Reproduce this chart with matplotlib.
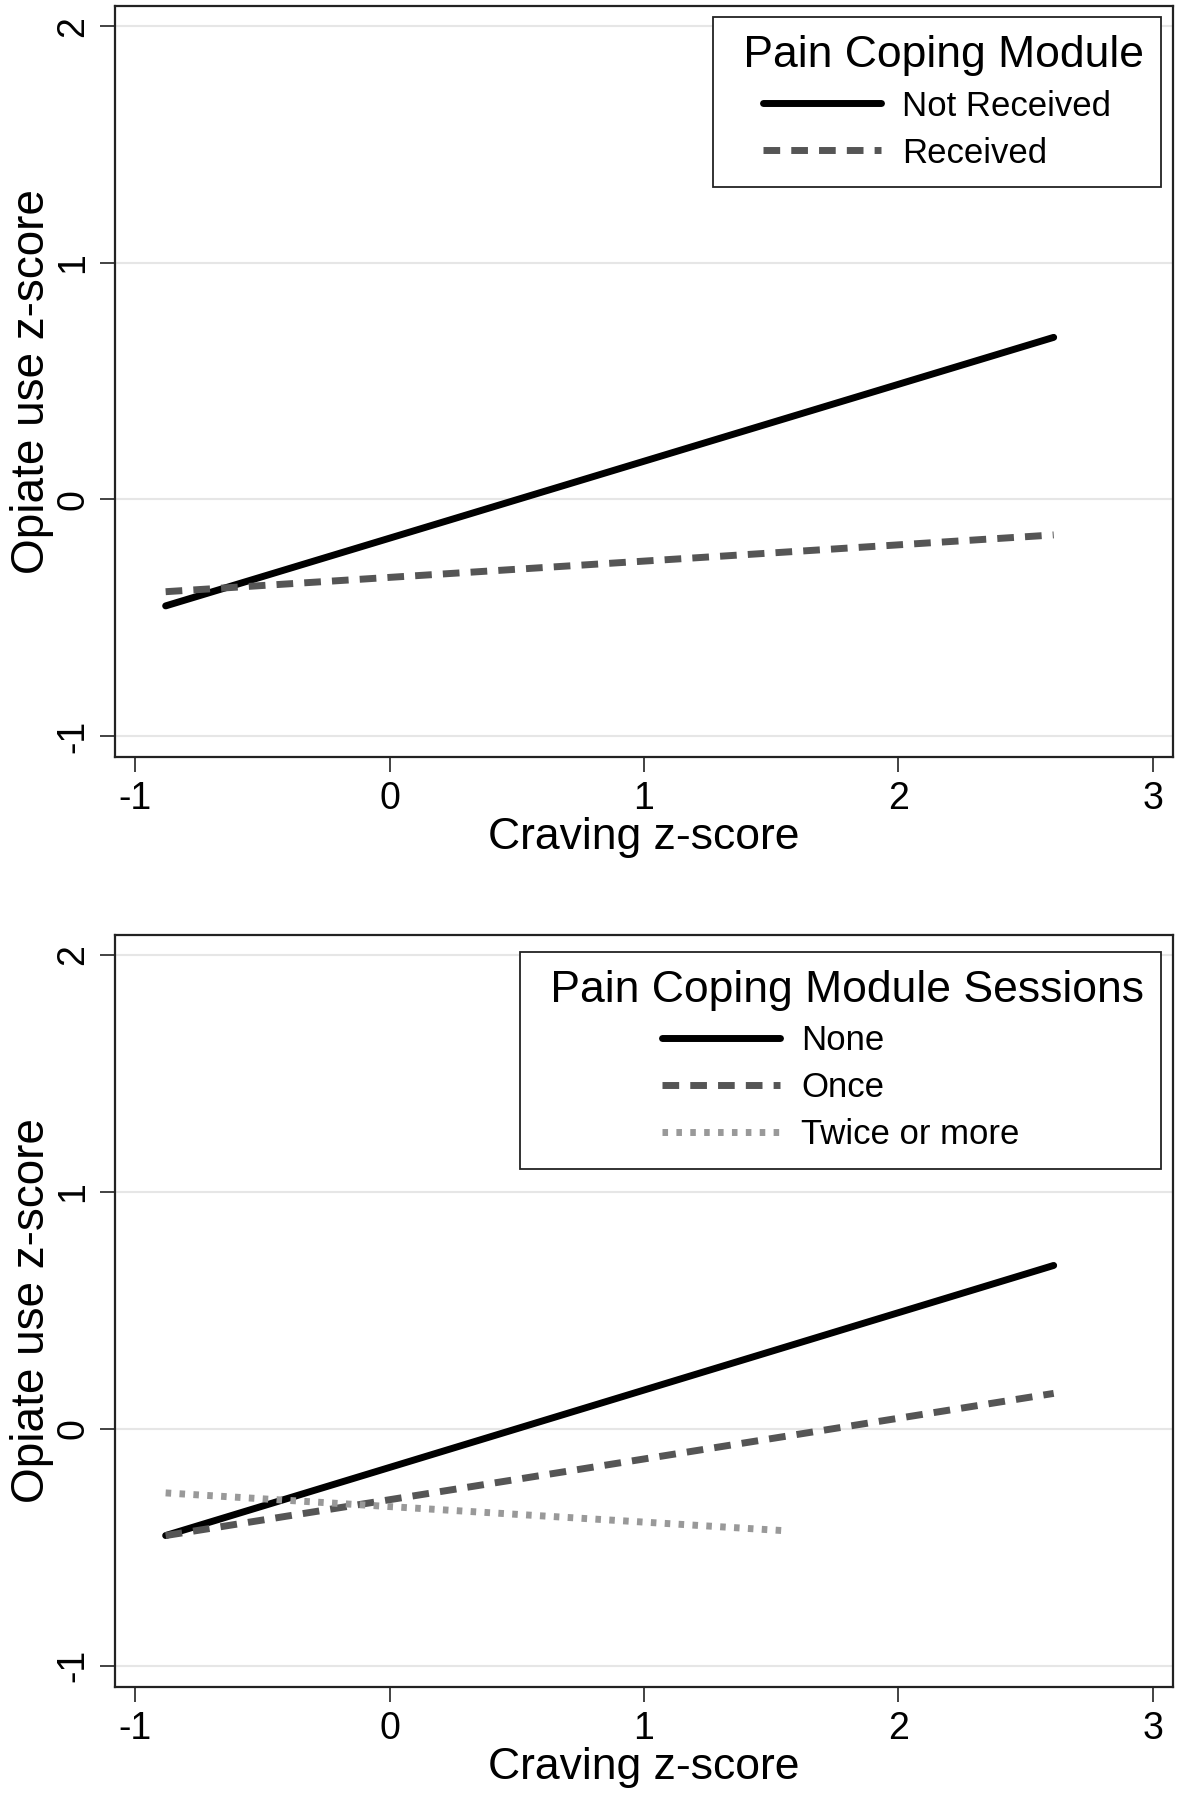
import numpy as np
import matplotlib
matplotlib.use('Agg')
import matplotlib.pyplot as plt

plt.rcParams['font.family'] = ['Liberation Sans', 'DejaVu Sans']
plt.rcParams['lines.scale_dashes'] = False
plt.rcParams['axes.unicode_minus'] = False

# Panel A: pain coping module received or not
x_a = [-0.88, 2.61]
not_received = [-0.45, 0.685]
received = [-0.39, -0.15]

# Panel B: number of pain coping module sessions
x_b = [-0.88, 2.61]
x_twice = [-0.88, 1.56]
none_sess = [-0.45, 0.69]
once_sess = [-0.45, 0.15]
twice_sess = [-0.27, -0.43]

x_ticks = [-1, 0, 1, 2, 3]
y_ticks = [-1, 0, 1, 2]

fig = plt.figure(figsize=(11.82, 18.0), dpi=100)
ax1 = fig.add_axes([0.0973, 0.5794, 0.8951, 0.4172])
ax2 = fig.add_axes([0.0973, 0.0628, 0.8951, 0.4178])


def style_axes(ax):
    ax.set_xlim(-1.079, 3.079)
    ax.set_ylim(-1.089, 2.085)
    ax.set_xticks(x_ticks)
    ax.set_yticks(y_ticks)
    for yt in y_ticks:
        ax.axhline(yt, color='#e6e6e6', lw=1.5, zorder=0)
    for s in ax.spines.values():
        s.set_color('#222222')
        s.set_linewidth(1.6)
    ax.tick_params(axis='both', direction='out', length=11, width=1.2,
                   color='#222222', labelsize=27, pad=6)
    for lab in ax.get_yticklabels():
        lab.set_rotation(90)
        lab.set_va('center')
    ax.set_xlabel('Craving z-score', fontsize=32, labelpad=0)
    ax.set_ylabel('Opiate use z-score', fontsize=33, labelpad=1)


def make_legend(ax, title, anchor_y):
    # leading space gives the wider left margin seen in the original
    leg = ax.legend(title=' ' + title, loc='upper right',
                    bbox_to_anchor=(0.9887, anchor_y), borderaxespad=0,
                    fontsize=25, title_fontsize=32, frameon=True,
                    fancybox=False, edgecolor='#222222', framealpha=1,
                    handlelength=3.4, handletextpad=0.6, labelspacing=0.4,
                    borderpad=0.5)
    leg.get_frame().set_linewidth(1.3)
    return leg


style_axes(ax1)
ax1.plot(x_a, not_received, color='black', lw=5, solid_capstyle='round',
         label='Not Received')
ax1.plot(x_a, received, color='#555555', lw=5, dashes=(12, 8),
         dash_capstyle='butt', label='Received')
make_legend(ax1, 'Pain Coping Module', 0.985)

style_axes(ax2)
ax2.plot(x_b, none_sess, color='black', lw=5, solid_capstyle='round',
         label='None')
ax2.plot(x_b, once_sess, color='#555555', lw=5, dashes=(12, 8),
         dash_capstyle='butt', label='Once')
ax2.plot(x_twice, twice_sess, color='#999999', lw=5, dashes=(4, 6),
         dash_capstyle='butt', label='Twice or more')
make_legend(ax2, 'Pain Coping Module Sessions', 0.977)

fig.savefig('out.png', dpi=100)
